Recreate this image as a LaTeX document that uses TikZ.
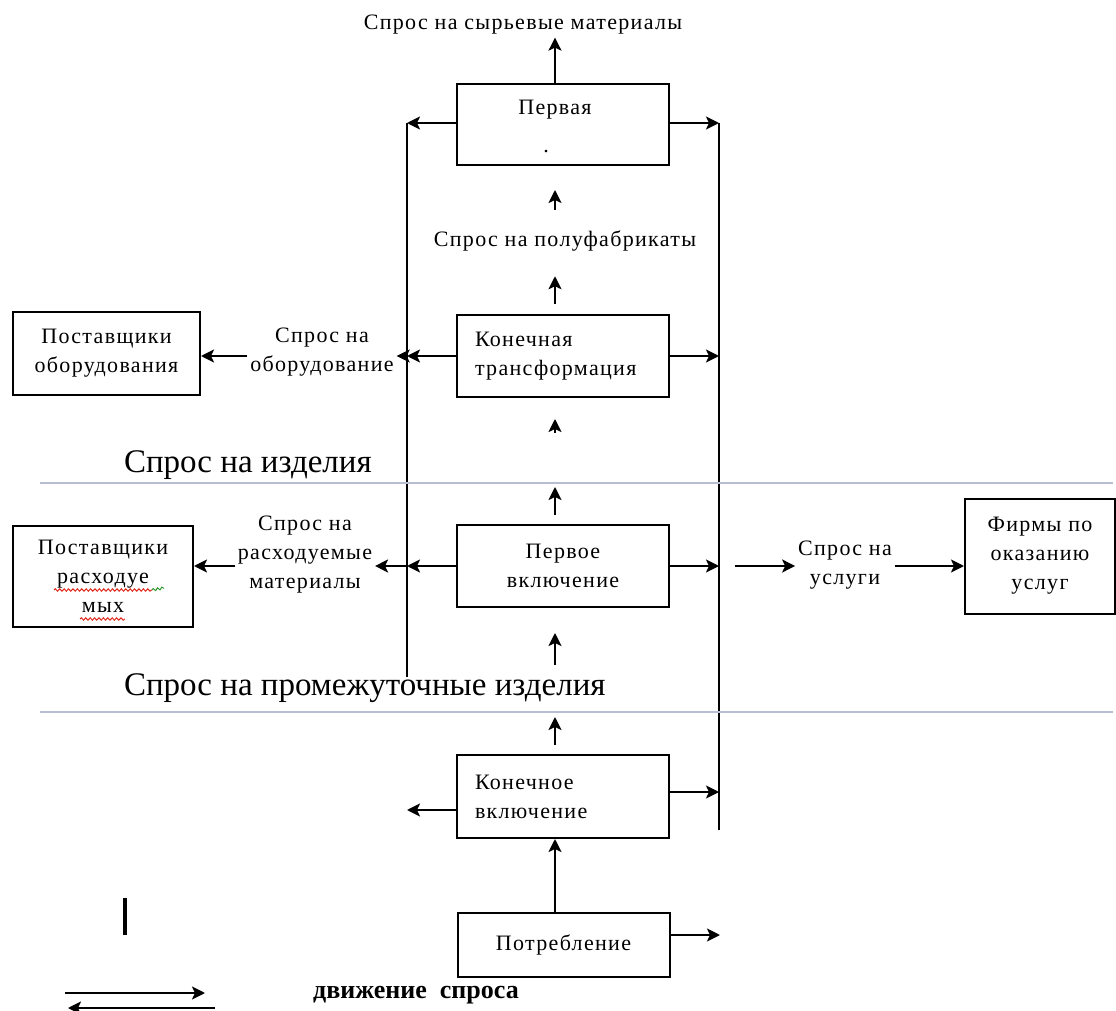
\documentclass[tikz,border=0pt]{standalone}
\usepackage{fontspec}
\setmainfont{Liberation Serif}[LetterSpace=6]
\newfontfamily\plainserif{Liberation Serif}
\usetikzlibrary{arrows.meta, positioning, decorations.pathmorphing}
\definecolor{cline}{HTML}{B9BDD2}
\definecolor{cspell}{HTML}{E02A1E}
\definecolor{cgreen}{HTML}{2E9A2E}
\tikzset{
  every picture/.style={line width=1pt},
  box/.style={draw, line width=1pt, minimum width=106pt, minimum height=41pt, inner sep=3pt, align=center, font=\fontsize{11}{14.5}\selectfont},
  leftbox/.style={box, text width=88pt, inner xsep=9pt, align=left},
  arrow/.style={-{Stealth[length=6.5pt, width=6.5pt, inset=1.5pt]}, line width=1pt},
  note/.style={font=\fontsize{11}{14.5}\selectfont, align=center, inner sep=1pt},
  level/.style={font=\plainserif\fontsize{16.5}{19}\selectfont, anchor=west, inner sep=0pt},
  sep/.style={draw=cline, line width=1pt},
  spell/.style={draw=#1, line width=0.5pt, decorate, decoration={snake, amplitude=0.6pt, segment length=2.2pt}},
}
\begin{document}
\begin{tikzpicture}[x=0.5pt, y=-0.5pt]
  \useasboundingbox (0,0) rectangle (1116,1011);
  % column of upward arrows and the two rails
  \coordinate (col) at (555,0);
  \coordinate (railLtop) at (407,123);
  \coordinate (railLbot) at (407,677);
  \coordinate (railRtop) at (719,123);
  \coordinate (railRbot) at (719,830);
  \draw (railLtop) -- (railLbot);
  \draw (railRtop) -- (railRbot);

  % stages
  \node[note] (raw) at (523,25) {Спрос на сырьевые материалы};
  \node[box, minimum height=40.5pt] (first) at (563,124.5) {};
  \node[note] (firstname) at (555,110) {Первая};
  \node[note] (firstdot) at (546,152) {.};
  \node[note] (semi) at (565,241) {Спрос на полуфабрикаты};
  \node[leftbox] (ftrans) at (563,356) {Конечная\\трансформация};
  \node[box] (fincl1) at (563,566) {Первое\\включение};
  \node[leftbox, minimum height=41.5pt] (fincl) at (563,796.5) {Конечное\\включение};
  \node[box, minimum height=32pt] (cons) at (563.5,945) {Потребление};

  % side partners
  \node[box, minimum width=93.5pt, minimum height=41.5pt] (eqsup) at (106.5,353.5) {Поставщики\\оборудования};
  \node[note] (eqdem) at (322,352) {Спрос на\\оборудование};
  \node[box, minimum width=90pt, minimum height=50.5pt] (matsup) at (103,576.5) {Поставщики\\расходуе\\мых};
  \node[note] (matdem) at (305,555) {Спрос на\\расходуемые\\материалы};
  \node[note] (servdem) at (845,565) {Спрос на\\услуги};
  \node[box, minimum width=75pt, minimum height=57.5pt] (firms) at (1040,556) {Фирмы по\\оказанию\\услуг};

  % spell-check underlines
  \draw[spell=cspell] (54,590) -- (152,590);
  \draw[spell=cgreen] (152,590) -- (164,588);
  \draw[spell=cspell] (80,619) -- (125,619);

  % levels
  \node[level] (lvlgoods) at (123,465) {Спрос на изделия};
  \node[level] (lvlmid) at (123,688) {Спрос на промежуточные изделия};
  \coordinate (sepAl) at (40,483);
  \coordinate (sepAr) at (1113,483);
  \coordinate (sepBl) at (40,712);
  \coordinate (sepBr) at (1113,712);
  \draw[sep] (sepAl) -- (sepAr);
  \draw[sep] (sepBl) -- (sepBr);

  % upward demand flow
  \draw[arrow] (first.north -| col) -- (raw.south -| col);
  \draw[arrow, shorten <=9pt, shorten >=12pt] (semi.north -| col) -- (first.south -| col);
  \draw[arrow, shorten <=5pt, shorten >=11pt] (ftrans.north -| col) -- (semi.south -| col);
  \foreach \n/\ya/\yb in {a/433/419, b/515/487, c/665/633, d/745/717} {
    \coordinate (up\n0) at (555,\ya);
    \coordinate (up\n1) at (555,\yb);
    \draw[arrow] (up\n0) -- (up\n1);
  }
  \draw[arrow] (cons.north -| col) -- (fincl.south -| col);

  % outputs to the rails
  \draw[arrow] ([yshift=0.75pt]first.west) -- ([yshift=0.75pt]first.west -| railLtop);
  \draw[arrow] ([yshift=0.75pt]first.east) -- ([yshift=0.75pt]first.east -| railRtop);
  \foreach \b in {ftrans, fincl1} {
    \draw[arrow] (\b.west) -- (\b.west -| railLtop);
    \draw[arrow] (\b.east) -- (\b.east -| railRtop);
  }
  \coordinate (finclL) at (407,810);
  \draw[arrow] ([yshift=-6.75pt]fincl.west) -- (finclL);
  \draw[arrow] ([yshift=2.25pt]fincl.east) -- ([yshift=2.25pt]fincl.east -| railRtop);
  \coordinate (consR) at (720,935);
  \draw[arrow] ([yshift=5pt]cons.east) -- (consR);

  % demand for equipment, materials and services
  \coordinate (eqrail) at (ftrans.west -| railLtop);
  \draw[arrow] (eqrail) -- (eqdem.east |- eqrail);
  \draw[arrow] (eqdem.west |- eqrail) -- (eqsup.east |- eqrail);
  \coordinate (matrail) at (fincl1.west -| railLtop);
  \draw[arrow] (matrail) -- (matdem.east |- matrail);
  \draw[arrow] (matdem.west |- matrail) -- (matsup.east |- matrail);
  \coordinate (servstart) at (735,566);
  \draw[arrow] (servstart) -- (servdem.west |- servstart);
  \draw[arrow] (servdem.east |- servstart) -- (firms.west |- servstart);

  % legend
  \coordinate (barTop) at (125,898);
  \coordinate (barBot) at (125,935);
  \draw[line width=1.6pt] (barTop) -- (barBot);
  \coordinate (legA0) at (65,993);
  \coordinate (legA1) at (205,993);
  \coordinate (legB0) at (215,1008);
  \coordinate (legB1) at (68,1008);
  \draw[arrow] (legA0) -- (legA1);
  \draw[arrow] (legB0) -- (legB1);
  \node[font=\plainserif\bfseries\fontsize{13}{15}\selectfont, inner sep=0pt] (legtext) at (416,995) {движение\ \ спроса};
\end{tikzpicture}
\end{document}
